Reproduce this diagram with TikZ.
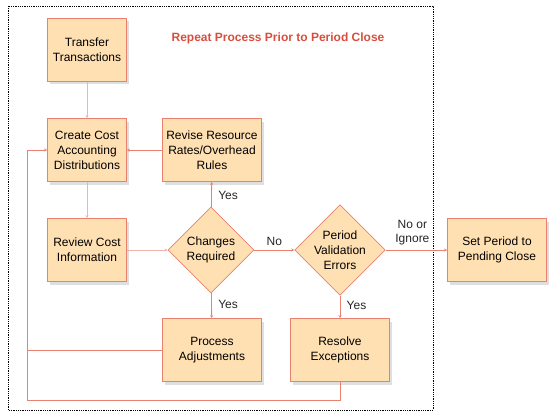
\documentclass[tikz,border=0pt]{standalone}
\usepackage{fontspec}
\setmainfont{Liberation Sans}
\definecolor{BoxFill}{HTML}{FFE0B2}
\definecolor{BoxEdge}{HTML}{E8826F}
\definecolor{LinkRed}{HTML}{E8826F}
\definecolor{LinkPale}{HTML}{F0B4AA}
\definecolor{TitleRed}{HTML}{D64F3E}
\usetikzlibrary{positioning,shapes.geometric,arrows.meta,shadows}

\tikzset{
  procbox/.style={rectangle, draw=BoxEdge, fill=BoxFill, line width=0.8pt,
    minimum width=79pt, minimum height=63pt, align=center, inner sep=2pt,
    font=\fontsize{12}{15}\selectfont,
    drop shadow={shadow xshift=2pt, shadow yshift=-3pt, opacity=0.25}},
  widebox/.style={procbox, minimum width=99pt},
  decision/.style={diamond, draw=BoxEdge, fill=BoxFill, line width=0.8pt,
    minimum width=86pt, minimum height=86pt, inner sep=0pt, align=center,
    font=\fontsize{12}{15}\selectfont},
  link/.style={draw=LinkRed, line width=0.8pt, -{Stealth[length=3pt,width=3pt]}},
  palelink/.style={link, draw=LinkPale},
  lbl/.style={font=\fontsize{12}{15}\selectfont, text=black!85, align=center}
}

\begin{document}
\begin{tikzpicture}[x=1pt, y=-1pt]
  \useasboundingbox (0,0) rectangle (560,420);
  %% repeat frame
  \draw[densely dotted, line width=0.8pt] (8,6) rectangle (433,410);
  \node[font=\fontsize{12}{14}\selectfont\bfseries, text=TitleRed] (title) at (278,38)
    {Repeat Process Prior to Period Close};

  %% boxes
  \node[procbox] (transfer) at (87,50) {Transfer\\Transactions};
  \node[procbox] (create) at (87,150) {Create Cost\\Accounting\\Distributions};
  \node[widebox] (revise) at (212,150) {Revise Resource\\Rates/Overhead\\Rules};
  \node[procbox] (review) at (87,250) {Review Cost\\Information};
  \node[decision] (changes) at (211,250) {Changes\\Required};
  \node[decision] (valid) at (340,250) {Period\\Validation\\Errors};
  \node[widebox] (setclose) at (497,250) {Set Period to\\Pending Close};
  \node[widebox] (adjust) at (212,350) {Process\\Adjustments};
  \node[widebox] (resolve) at (340,350) {Resolve\\Exceptions};
  \coordinate (loopL) at (27,150);
  \coordinate (loopB) at (27,400);

  %% connectors
  \draw[palelink] (transfer) -- (create);
  \draw[palelink] (create) -- (review);
  \draw[palelink] (review) -- (changes);
  \draw[link] (revise) -- (create);
  \draw[link] (changes) -- node[lbl, right=3pt, pos=0.45] (yesup) {Yes} (revise);
  \draw[link] (changes) -- node[lbl, right=3pt, pos=0.45] (yesdown) {Yes} (adjust);
  \draw[link] (changes) -- node[lbl, above=1pt] (nolbl) {No} (valid);
  \draw[link] (valid) -- node[lbl, above=1pt, xshift=-4pt] (ignore) {No or\\[-1pt]Ignore} (setclose);
  \draw[link] (valid) -- node[lbl, right=3pt, pos=0.45] (yesval) {Yes} (resolve);
  \draw[link] (adjust.west) -| (loopL) -- (create.west);
  \draw[draw=LinkRed, line width=0.8pt] (resolve.south) |- (loopB) -- (loopL);
\end{tikzpicture}
\end{document}
